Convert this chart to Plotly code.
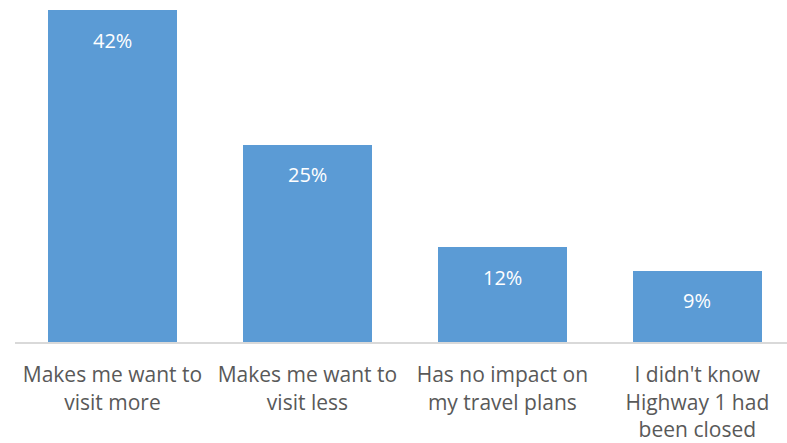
import plotly.graph_objects as go

categories = [
    "Makes me want to<br>visit more",
    "Makes me want to<br>visit less",
    "Has no impact on<br>my travel plans",
    "I didn't know<br>Highway 1 had<br>been closed",
]
values = [42, 25, 12, 9]
labels = [f"{v}%" for v in values]

x_idx = list(range(len(categories)))

fig = go.Figure(
    go.Bar(
        x=x_idx,
        y=values,
        width=0.665,
        marker=dict(color="#5b9bd5", line=dict(width=0)),
        hoverinfo="skip",
    )
)

# value labels inside the top of each bar
for xi, v, t in zip(x_idx, values, labels):
    fig.add_annotation(
        x=xi, y=v, text=t, showarrow=False, yshift=-30,
        font=dict(family="Open Sans", size=20, color="white"),
    )

fig.update_layout(
    width=787,
    height=443,
    margin=dict(l=15, r=0, t=0, b=98),
    plot_bgcolor="white",
    paper_bgcolor="white",
    showlegend=False,
    bargap=0,
)
fig.update_xaxes(
    tickmode="array",
    tickvals=x_idx,
    ticktext=categories,
    range=[-0.5, 3.46],
    showline=True,
    linecolor="#d9d9d9",
    linewidth=2,
    showgrid=False,
    zeroline=False,
    ticks="outside",
    ticklen=13,
    tickcolor="rgba(0,0,0,0)",
    tickfont=dict(family="Open Sans", size=21, color="#595959"),
)
fig.update_yaxes(
    range=[0, 43.3],
    showgrid=False,
    zeroline=False,
    showticklabels=False,
    showline=False,
)

fig.write_html("out.html")
